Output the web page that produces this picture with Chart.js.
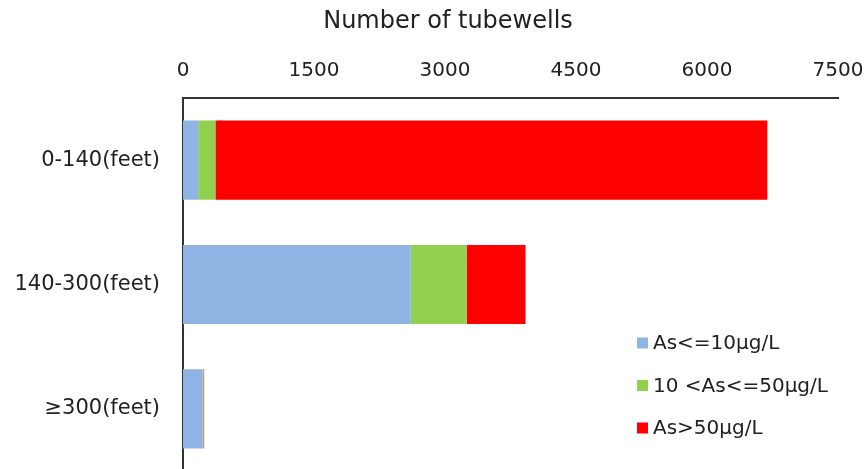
<!DOCTYPE html>
<html>
<head>
<meta charset="utf-8">
<script src="https://cdn.jsdelivr.net/npm/chart.js@4"></script>
<style>
  html, body { margin: 0; padding: 0; background: #ffffff; overflow: hidden; }
  #wrap { width: 867px; height: 471px; }
</style>
</head>
<body>
<div id="wrap"><canvas id="c" width="867" height="471"></canvas></div>
<script>
const categories = ["0-140(feet)", "140-300(feet)", "≥300(feet)"];
const seriesLabels = ["As<=10μg/L", "10 <As<=50μg/L", "As>50μg/L"];
const lowArsenic = [174, 2608, 226];
const midArsenic = [197, 640, 8];
const highArsenic = [6320, 674, 8];
const xTicks = [0, 1500, 3000, 4500, 6000, 7500];
const axisTitle = "Number of tubewells";
const colors = ["#8DB4E2", "#92D050", "#FF0000"];

const textColor = "#222222";
const fontFamily = '"DejaVu Sans", sans-serif';

const overlay = {
  id: 'overlay',
  afterDraw(chart) {
    const ctx = chart.ctx;
    ctx.save();
    ctx.fillStyle = textColor;
    ctx.font = '24px ' + fontFamily;
    ctx.textAlign = 'center';
    ctx.textBaseline = 'middle';
    ctx.fillText(axisTitle, 448, 22);
    ctx.font = '20px ' + fontFamily;
    ctx.textAlign = 'left';
    chart.data.datasets.forEach((ds, i) => {
      const y = 343 + i * 42.5;
      ctx.fillStyle = ds.backgroundColor;
      ctx.fillRect(637, y - 5.5, 11, 11);
      ctx.fillStyle = textColor;
      ctx.fillText(ds.label, 653, y + 1);
    });
    ctx.restore();
  }
};

const datasetsData = [lowArsenic, midArsenic, highArsenic];

new Chart(document.getElementById('c'), {
  type: 'bar',
  data: {
    labels: categories,
    datasets: datasetsData.map((d, i) => ({
      label: seriesLabels[i],
      data: d,
      backgroundColor: colors[i],
      borderWidth: 0,
      barPercentage: 0.637,
      categoryPercentage: 1.0
    }))
  },
  options: {
    indexAxis: 'y',
    responsive: false,
    animation: false,
    layout: { padding: { left: 0, right: 29, top: 0, bottom: 0 } },
    plugins: {
      legend: { display: false },
      tooltip: { enabled: false },
      title: { display: false }
    },
    scales: {
      x: {
        position: 'top',
        stacked: true,
        min: 0,
        max: 7500,
        afterBuildTicks(scale) { scale.ticks = xTicks.map(v => ({ value: v })); },
        afterFit(scale) {
          scale.height = 98;
          scale.paddingLeft = 0;
          scale.paddingRight = 0;
        },
        grid: { display: false, drawTicks: false },
        border: { display: true, color: '#333333', width: 2 },
        ticks: {
          padding: 15,
          color: textColor,
          font: { family: fontFamily, size: 20 },
          maxRotation: 0,
          autoSkip: false,
          callback: (v) => String(v)
        }
      },
      y: {
        stacked: true,
        afterFit(scale) {
          scale.width = 183;
          scale.paddingTop = 0;
          scale.paddingBottom = 0;
        },
        grid: { display: false, drawTicks: false },
        border: { display: true, color: '#333333', width: 2 },
        ticks: {
          padding: 23,
          color: textColor,
          font: { family: fontFamily, size: 21 }
        }
      }
    }
  },
  plugins: [overlay]
});
</script>
</body>
</html>
